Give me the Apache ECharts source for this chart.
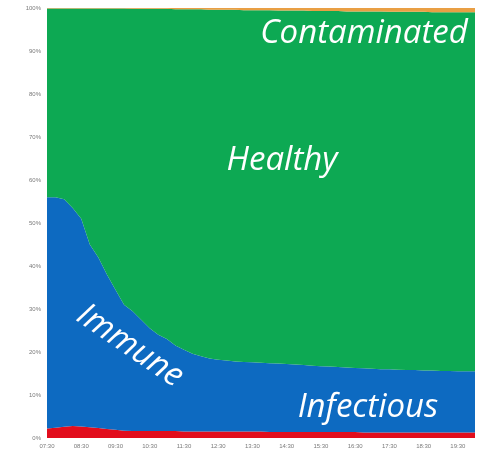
<!DOCTYPE html>
<html>
<head>
<meta charset="utf-8">
<script src="https://cdn.jsdelivr.net/npm/echarts@6/dist/echarts.min.js"></script>
<style>
  html, body { margin: 0; padding: 0; background: #fff; }
  #chart { width: 485px; height: 457px; }
</style>
</head>
<body>
<div id="chart"></div>
<script>
// time steps every 15 minutes, 07:30 -> 20:00
const times = []
for (let h = 7; h <= 20; h++) {
  for (const m of ['00', '15', '30', '45']) {
    const t = (h < 10 ? '0' + h : '' + h) + ':' + m
    if (t >= '07:30' && t <= '20:00') times.push(t)
  }
}

// share of the population, percent
const infectious = [2.2, 2.4, 2.6, 2.8, 2.7, 2.5, 2.3, 2.1, 1.9, 1.7,
  1.6, 1.6, 1.6, 1.6, 1.6, 1.6, 1.5, 1.5, 1.5, 1.5,
  1.5, 1.5, 1.5, 1.5, 1.5, 1.5, 1.4, 1.4, 1.4, 1.4,
  1.4, 1.4, 1.4, 1.4, 1.4, 1.4, 1.4, 1.3, 1.3, 1.3,
  1.3, 1.3, 1.3, 1.3, 1.3, 1.3, 1.3, 1.3, 1.3, 1.3, 1.3]
const immune = [53.8, 53.6, 52.9, 50.7, 48.3, 42.5, 39.7, 35.9, 32.6, 29.3,
  27.9, 25.9, 23.9, 22.4, 21.4, 19.9, 19.0, 18.1, 17.5, 17.0,
  16.7, 16.5, 16.3, 16.2, 16.1, 16.0, 16.0, 15.9, 15.8, 15.7,
  15.6, 15.4, 15.3, 15.2, 15.1, 15.0, 14.9, 14.9, 14.8, 14.7,
  14.7, 14.6, 14.5, 14.5, 14.4, 14.4, 14.3, 14.3, 14.2, 14.2, 14.2]
const contaminated = [0.1, 0.1, 0.1, 0.1, 0.1, 0.1, 0.1, 0.1, 0.1, 0.1,
  0.2, 0.2, 0.2, 0.2, 0.2, 0.3, 0.3, 0.3, 0.3, 0.4,
  0.4, 0.4, 0.4, 0.5, 0.5, 0.5, 0.5, 0.6, 0.6, 0.6,
  0.6, 0.7, 0.7, 0.7, 0.7, 0.8, 0.8, 0.8, 0.8, 0.8,
  0.9, 0.9, 0.9, 0.9, 0.9, 1.0, 1.0, 1.0, 1.0, 1.0, 1.0]
// healthy is whatever is left
const healthy = times.map((t, i) => +(100 - infectious[i] - immune[i] - contaminated[i]).toFixed(1))

const yTicks = [0, 10, 20, 30, 40, 50, 60, 70, 80, 90, 100]

const chart = echarts.init(document.getElementById('chart'))

function area(name, data, color) {
  return {
    name: name,
    type: 'line',
    stack: 'total',
    data: data,
    symbol: 'none',
    lineStyle: { width: 0 },
    areaStyle: { color: color, opacity: 0.95 },
    itemStyle: { color: color }
  }
}

function label(text, x, y, rotation) {
  return {
    type: 'text',
    z: 100,
    x: x,
    y: y,
    rotation: rotation || 0,
    style: {
      text: text,
      fill: '#fff',
      font: 'italic 33px "Open Sans"',
      textAlign: 'center',
      textVerticalAlign: 'middle'
    }
  }
}

chart.setOption({
  animation: false,
  grid: { left: 47, right: 10, top: 8, bottom: 19 },
  xAxis: {
    type: 'category',
    data: times,
    boundaryGap: false,
    axisLine: { show: false },
    axisTick: { show: false },
    axisLabel: { interval: 3, fontSize: 6, color: '#7a7a7a', margin: 5 }
  },
  yAxis: {
    type: 'value',
    min: yTicks[0],
    max: yTicks[yTicks.length - 1],
    interval: 10,
    axisLine: { show: false },
    axisTick: { show: false },
    axisLabel: { fontSize: 6, color: '#7a7a7a', margin: 6, formatter: '{value}%' },
    splitLine: { lineStyle: { color: '#ffffff', width: 1 } }
  },
  series: [
    area('Infectious', infectious, '#e00010'),
    area('Immune', immune, '#0062be'),
    area('Healthy', healthy, '#00a44a'),
    area('Contaminated', contaminated, '#e89a3a')
  ],
  graphic: [
    label('Contaminated', 364, 34),
    label('Healthy', 282, 161),
    label('Immune', 130, 346, -0.6),
    label('Infectious', 368, 408)
  ]
})
</script>
</body>
</html>
